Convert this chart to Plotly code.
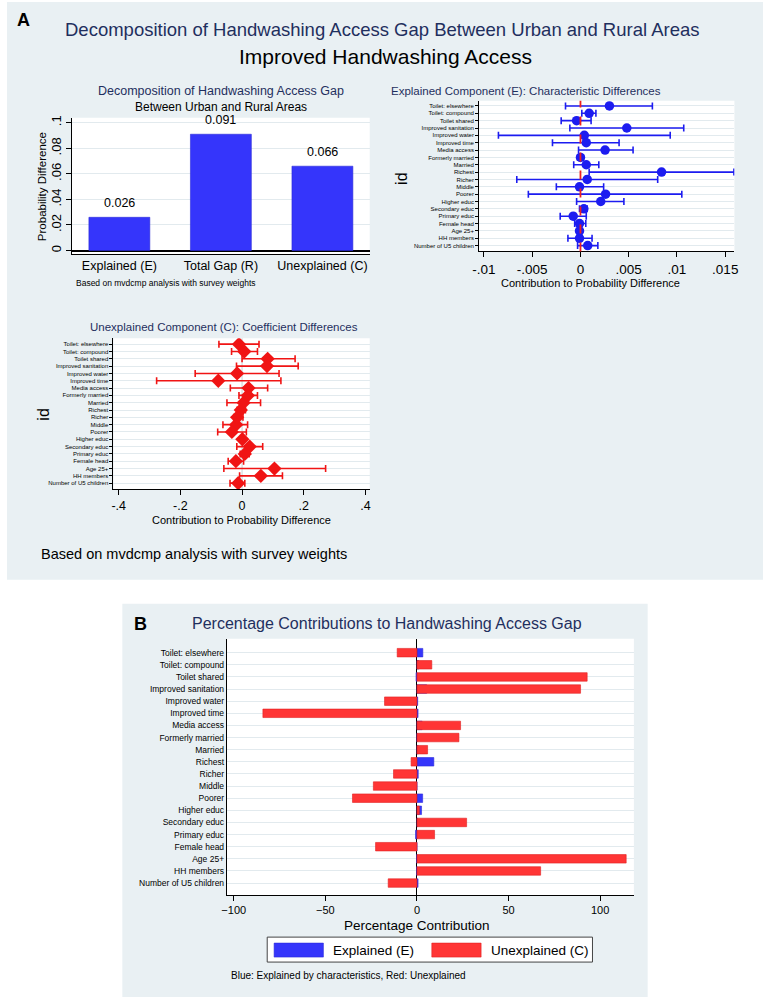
import plotly.graph_objects as go

# ---------------- data ----------------
components = ["Explained (E)", "Total Gap (R)", "Unexplained (C)"]
gap_values = [0.026, 0.091, 0.066]

labels = ["Toilet: elsewhere", "Toilet: compound", "Toilet shared", "Improved sanitation",
          "Improved water", "Improved time", "Media access", "Formerly married", "Married",
          "Richest", "Richer", "Middle", "Poorer", "Higher educ", "Secondary educ",
          "Primary educ", "Female head", "Age 25+", "HH members", "Number of U5 children"]

E_point = [0.0030, 0.0009, -0.0004, 0.0048, 0.0004, 0.0006, 0.00255, 0.0, 0.0006, 0.0084,
           0.0007, -0.0001, 0.0026, 0.0021, 0.00035, -0.00075, -0.0001, -0.0001, -0.0001, 0.00075]
E_lo = [-0.00155, 0.00014, -0.0020, -0.0011, -0.0085, -0.0029, -0.0002, -0.0003, -0.0007, 0.0009,
        -0.0066, -0.0025, -0.0054, -0.0004, -0.0001, -0.0021, -0.0006, -0.0003, -0.0013, -0.0003]
E_hi = [0.00745, 0.0016, 0.0011, 0.0107, 0.0093, 0.0040, 0.00545, 0.0003, 0.0019, 0.0159,
        0.0080, 0.0024, 0.0105, 0.0045, 0.0007, 0.0006, 0.00055, 0.0001, 0.0012, 0.0018]

C_point = [-0.010, 0.007, 0.083, 0.081, -0.016, -0.077, 0.021, 0.019, 0.005, -0.004,
           -0.016, -0.019, -0.033, 0.001, 0.025, 0.009, -0.020, 0.105, 0.061, -0.0125]
C_lo = [-0.075, -0.034, 0.0, -0.018, -0.152, -0.277, -0.038, -0.010, -0.049, -0.016,
        -0.027, -0.062, -0.079, -0.004, -0.017, -0.006, -0.045, -0.059, -0.008, -0.039]
C_hi = [0.055, 0.050, 0.172, 0.182, 0.120, 0.126, 0.083, 0.050, 0.060, 0.011,
        0.003, 0.018, 0.014, 0.006, 0.067, 0.023, 0.005, 0.271, 0.131, 0.009]

pct_E = [3.2, 1.0, -0.5, 5.3, 0.4, 0.6, 2.8, 0.0, 0.7, 9.2,
         0.7, -0.1, 3.1, 2.5, 0.4, -0.8, -0.1, -0.2, -0.2, 0.6]
pct_C = [-10.8, 8.1, 92.9, 89.3, -17.7, -84.1, 23.8, 22.9, 5.8, -3.2,
         -12.8, -23.8, -35.2, 1.3, 27.1, 9.6, -22.6, 114.2, 67.5, -15.7]

# ---------------- style ----------------
W, H = 767, 997
FONT = "Liberation Sans, Arial, Helvetica, sans-serif"
NAVY = "#1f2f5e"
LIGHT = "#e9f0f3"
GRID = "#e2eaee"
BAR_BLUE = "#3535fb"
MK_BLUE = "#1c1cf0"
MK_RED = "#f01414"
BAR_RED = "#ff3535"


def xd(a, b):
    return [a / W, b / W]


def yd(top, bottom):
    return [1 - bottom / H, 1 - top / H]


def px(x):
    return x / W


def py(y):
    return 1 - y / H


fig = go.Figure()

# Panel A: summary bars
fig.add_trace(go.Bar(
    x=components, y=gap_values, width=0.6,
    marker=dict(color=BAR_BLUE, line=dict(color="#2b2bd8", width=0.6)),
    xaxis="x", yaxis="y", showlegend=False, hoverinfo="x+y"))

# Explained component
fig.add_trace(go.Scatter(
    x=E_point, y=labels, mode="markers",
    marker=dict(symbol="circle", size=9.5, color=MK_BLUE),
    error_x=dict(type="data", symmetric=False,
                 array=[h - p for h, p in zip(E_hi, E_point)],
                 arrayminus=[p - l for p, l in zip(E_point, E_lo)],
                 color=MK_BLUE, thickness=1.6, width=3.5),
    xaxis="x2", yaxis="y2", showlegend=False))

# Unexplained component
fig.add_trace(go.Scatter(
    x=C_point, y=labels, mode="markers",
    marker=dict(symbol="diamond", size=11, color=MK_RED),
    error_x=dict(type="data", symmetric=False,
                 array=[h - p for h, p in zip(C_hi, C_point)],
                 arrayminus=[p - l for p, l in zip(C_point, C_lo)],
                 color=MK_RED, thickness=1.6, width=3.5),
    xaxis="x3", yaxis="y3", showlegend=False))

# Panel B: percentage contributions
fig.add_trace(go.Bar(
    x=pct_E, y=labels, orientation="h", width=0.7,
    marker=dict(color=BAR_BLUE, line=dict(color="#2b2bd8", width=0.6)),
    xaxis="x4", yaxis="y4", name="Explained (E)", showlegend=False))
fig.add_trace(go.Bar(
    x=pct_C, y=labels, orientation="h", width=0.7,
    marker=dict(color=BAR_RED, line=dict(color="#e02020", width=0.6)),
    xaxis="x4", yaxis="y4", name="Unexplained (C)", showlegend=False))

axfont = dict(family=FONT, color="black")

fig.update_layout(
    width=W, height=H, autosize=False,
    margin=dict(l=0, r=0, t=0, b=0),
    paper_bgcolor="white", plot_bgcolor="white",
    barmode="overlay", showlegend=False,
    font=dict(family=FONT, color="black"),
    # bar chart
    xaxis=dict(domain=xd(66, 368), anchor="y", range=[-0.466, 2.466],
               showline=True, linecolor="black", linewidth=1, ticks="",
               showgrid=False, tickfont=dict(size=12.5, **axfont), fixedrange=True),
    yaxis=dict(domain=yd(116, 253), anchor="x", range=[-0.0031, 0.1039],
               tickvals=[0, 0.02, 0.04, 0.06, 0.08, 0.1],
               ticktext=["0", ".02", ".04", ".06", ".08", ".1"],
               tickangle=-90, ticks="outside", ticklen=5, tickcolor="black",
               showline=True, linecolor="black", linewidth=1,
               showgrid=True, gridcolor=GRID, gridwidth=1,
               zeroline=True, zerolinecolor="black", zerolinewidth=1.6,
               tickfont=dict(size=13, **axfont)),
    # explained
    xaxis2=dict(domain=xd(479, 738), anchor="y2", range=[-0.0105, 0.01595],
                tickvals=[-0.01, -0.005, 0, 0.005, 0.01, 0.015],
                ticktext=["-.01", "-.005", "0", ".005", ".01", ".015"],
                ticks="outside", ticklen=5, tickcolor="black",
                showline=True, linecolor="black", linewidth=1,
                showgrid=False, zeroline=False, tickfont=dict(size=13.5, **axfont)),
    yaxis2=dict(domain=yd(99, 250), anchor="x2", type="category",
                categoryorder="array", categoryarray=labels, range=[19.8, -0.7],
                ticks="outside", ticklen=3, tickcolor="black",
                showline=True, linecolor="black", linewidth=1,
                showgrid=True, gridcolor=GRID, gridwidth=1,
                tickfont=dict(size=6, **axfont)),
    # unexplained
    xaxis3=dict(domain=xd(108, 368), anchor="y3", range=[-0.417, 0.414],
                tickvals=[-0.4, -0.2, 0, 0.2, 0.4],
                ticktext=["-.4", "-.2", "0", ".2", ".4"],
                ticks="outside", ticklen=5, tickcolor="black",
                showline=True, linecolor="black", linewidth=1,
                showgrid=False, zeroline=False, tickfont=dict(size=12.5, **axfont)),
    yaxis3=dict(domain=yd(337, 488), anchor="x3", type="category",
                categoryorder="array", categoryarray=labels, range=[19.8, -0.8],
                ticks="outside", ticklen=3, tickcolor="black",
                showline=True, linecolor="black", linewidth=1,
                showgrid=True, gridcolor=GRID, gridwidth=1,
                tickfont=dict(size=6, **axfont)),
    # panel B
    xaxis4=dict(domain=xd(223, 636), anchor="y4", range=[-103.8, 118.4],
                tickvals=[-100, -50, 0, 50, 100],
                ticks="outside", ticklen=5, tickcolor="black",
                showline=True, linecolor="black", linewidth=1,
                showgrid=False, zeroline=True, zerolinecolor="black", zerolinewidth=1.4,
                tickfont=dict(size=11, **axfont)),
    yaxis4=dict(domain=yd(638, 895), anchor="x4", type="category",
                categoryorder="array", categoryarray=labels, range=[20.0, -1.15],
                ticks="", showline=True, linecolor="black", linewidth=1,
                showgrid=True, gridcolor=GRID, gridwidth=1,
                tickfont=dict(size=8.5, **axfont)),
)

shapes = [
    # panel backgrounds
    dict(type="rect", xref="paper", yref="paper", x0=0, x1=1, y0=py(579), y1=1,
         fillcolor=LIGHT, line=dict(width=0), layer="below"),
    dict(type="rect", xref="paper", yref="paper", x0=px(117), x1=px(650), y0=0, y1=py(603),
         fillcolor=LIGHT, line=dict(width=0), layer="below"),
]
for (a, b, t, bt) in [(66, 368, 116, 253), (479, 738, 99, 250), (108, 368, 337, 488), (223, 636, 638, 895)]:
    shapes.append(dict(type="rect", xref="paper", yref="paper", x0=px(a), x1=px(b),
                       y0=py(bt), y1=py(t), fillcolor="white", line=dict(width=0), layer="below"))
# reference lines at zero
shapes.append(dict(type="line", xref="x2", yref="y2 domain", x0=0, x1=0, y0=0, y1=1,
                   line=dict(color="#ee2020", width=1.8, dash="dash"), layer="above"))
shapes.append(dict(type="line", xref="x3", yref="y3 domain", x0=0, x1=0, y0=0, y1=1,
                   line=dict(color="#c9d2d6", width=1), layer="below"))
# manual legend for panel B
shapes.append(dict(type="rect", xref="paper", yref="paper", x0=px(264), x1=px(594),
                   y0=py(962), y1=py(937), fillcolor="white", line=dict(color="#444", width=1)))
shapes.append(dict(type="rect", xref="paper", yref="paper", x0=px(271), x1=px(321),
                   y0=py(957), y1=py(943), fillcolor=BAR_BLUE, line=dict(color="#2b2bd8", width=0.6)))
shapes.append(dict(type="rect", xref="paper", yref="paper", x0=px(431), x1=px(481),
                   y0=py(957), y1=py(943), fillcolor=BAR_RED, line=dict(color="#e02020", width=0.6)))
fig.update_layout(shapes=shapes)

anns = []


def ann(text, x, y, size, color="black", xanchor="center", angle=0, bold=False):
    if bold:
        text = "<b>" + text + "</b>"
    anns.append(dict(text=text, x=px(x), y=py(y), xref="paper", yref="paper",
                     xanchor=xanchor, yanchor="middle", showarrow=False, textangle=angle,
                     font=dict(family=FONT, size=size, color=color)))


ann("A", 17, 18, 18, bold=True)
ann("Decomposition of Handwashing Access Gap Between Urban and Rural Areas", 381, 28, 18.5, NAVY)
ann("Improved Handwashing Access", 384, 55, 21)
ann("Decomposition of Handwashing Access Gap", 217, 89, 12.5, NAVY)
ann("Between Urban and Rural Areas", 217, 105, 12)
ann("Probability Difference", 35, 185, 11.5, angle=-90)
ann("Based on mvdcmp analysis with survey weights", 68, 282, 8.5, xanchor="left")
ann("Explained Component (E): Characteristic Differences", 527, 89, 11.5, NAVY)
ann("id", 400, 177, 16, angle=-90)
ann("Contribution to Probability Difference", 592, 282, 11)
ann("Unexplained Component (C): Coefficient Differences", 220, 326, 11.5, NAVY)
ann("id", 37, 413, 16, angle=-90)
ann("Contribution to Probability Difference", 238, 519, 11)
ann("Based on mvdcmp analysis with survey weights", 32, 553, 14.5, xanchor="left")
ann("B", 135, 623, 18, bold=True)
ann("Percentage Contributions to Handwashing Access Gap", 386, 623, 16, NAVY)
ann("Percentage Contribution", 416, 925, 13.5)
ann("Explained (E)", 329, 950, 13.5, xanchor="left")
ann("Unexplained (C)", 489, 950, 13.5, xanchor="left")
ann("Blue: Explained by characteristics, Red: Unexplained", 225, 975, 10, xanchor="left")

# value labels on summary bars (positioned via data axes)
for c, v in zip(components, gap_values):
    anns.append(dict(text=f"{v:.3f}", x=c, y=v, xref="x", yref="y", xanchor="center",
                     yanchor="bottom", yshift=5, showarrow=False,
                     font=dict(family=FONT, size=12.5, color="black")))

fig.update_layout(annotations=anns)

fig.write_html("out.html")
